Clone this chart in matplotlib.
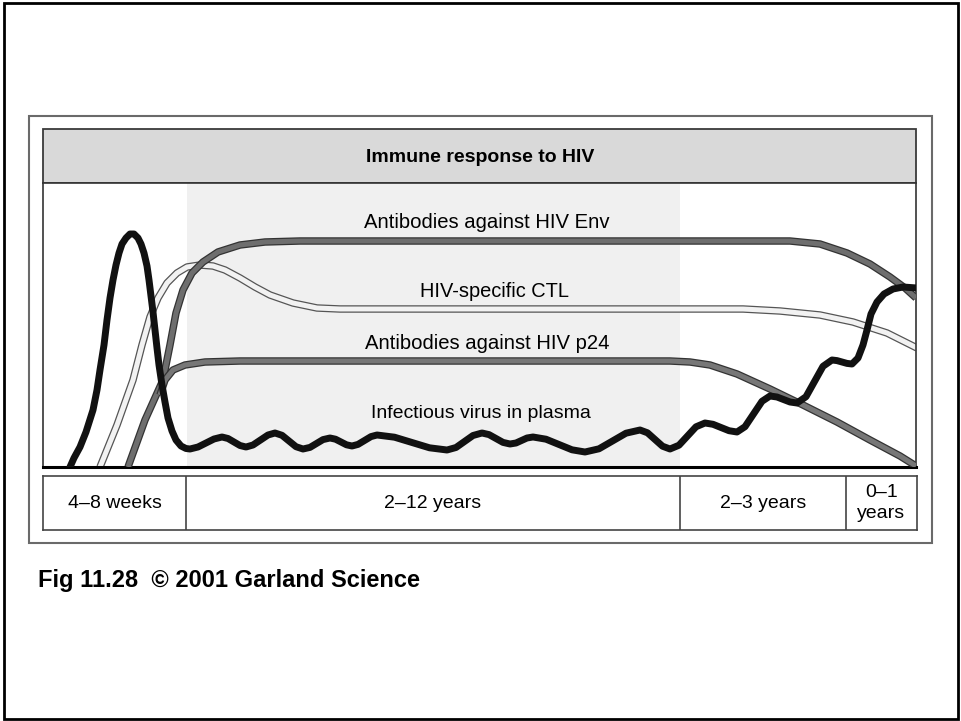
import matplotlib.pyplot as plt
from matplotlib.patches import Rectangle

# schematic time axis (0-873 across the panel) and relative response level (0-284)
env_t = [85, 102, 120, 127, 133, 140, 149, 160, 175, 197, 222, 257, 747, 777, 804, 827, 847, 862, 873]
env_lvl = [0, 47, 87, 122, 154, 177, 194, 205, 215, 222, 225, 226, 226, 223, 214, 203, 190, 179, 169]

ctl_t = [57, 74, 90, 99, 107, 115, 124, 134, 144, 157, 170, 182, 197, 212, 227, 250, 274, 297,
         700, 737, 777, 810, 844, 874]
ctl_lvl = [0, 42, 87, 122, 150, 169, 184, 194, 200, 202, 201, 197, 189, 180, 172, 164, 159, 158,
           158, 156, 152, 145, 134, 119]

p24_t = [117, 122, 130, 142, 162, 197, 627, 647, 667, 694, 727, 760, 794, 827, 857, 873]
p24_lvl = [72, 87, 97, 102, 105, 106, 106, 105, 102, 93, 78, 62, 45, 27, 11, 1]

virus_t = [27, 31, 37, 43, 50, 54, 57, 61, 64, 67, 70, 73, 76, 79, 83, 87, 91, 95, 98, 101, 104,
           106, 108, 110, 112, 114, 116, 119, 122, 125, 129, 133, 138, 143,
           147, 155, 163, 171, 179, 185, 191, 197, 203, 210, 217.5, 225, 232, 239, 246, 253,
           260, 267, 273.5, 280, 287, 292.5, 298, 303.5, 309, 315, 321.5, 328, 334, 351.5, 369,
           386.5, 404, 413, 421.5, 430, 439, 446, 453, 460, 467, 473, 478.5, 484, 490, 503, 516,
           529, 542, 556, 569.5, 583, 597, 604.5, 612, 619.5, 627, 636, 644.5, 653, 662, 670,
           678, 686, 694, 702, 710.5, 719, 727, 734, 740.5, 747, 754, 763, 771.5, 780, 789, 794,
           799, 804, 809, 815, 820, 824, 828, 834, 841, 850, 860, 874]
virus_lvl = [0, 9, 20, 35, 57, 77, 97, 122, 147, 169, 187, 202, 214, 223, 229, 233, 233, 229, 223,
             214, 201, 187, 171, 155, 137, 119, 102, 82, 65, 49, 36, 27, 21, 18.5,
             18, 20, 24, 28, 30, 28.5, 25, 21.5, 20, 22, 27, 32, 34, 31.7, 26, 20.3,
             18, 19.6, 23.5, 27.4, 29, 27.8, 25, 22.2, 21, 22.6, 26.5, 30.4, 32, 29.8, 24.5,
             19.2, 17, 19.5, 25.5, 31.5, 34, 32.4, 28.5, 24.6, 23, 24, 26.5, 29, 30, 27.8, 22.5,
             17.2, 15, 18.2, 26, 33.8, 37, 34.2, 27.5, 20.8, 18, 21.8, 31, 40.2, 44, 42.7,
             39.5, 36.3, 35, 40.3, 53, 65.7, 71, 70, 67.5, 65, 64, 70.3, 85.5, 100.7, 107, 106.4,
             105, 103.6, 103, 109, 122, 137, 153, 165, 173, 178, 180, 179]

chronic_span = [144, 637]
stage_edges = [0, 143, 637, 803, 874]
stage_labels = ['4–8 weeks', '2–12 years', '2–3 years', '0–1\nyears']

plt.rcParams['font.family'] = ['Liberation Sans', 'DejaVu Sans']

W, H = 961, 721
fig = plt.figure(figsize=(W / 100, H / 100), dpi=100)

# background layer in pixel coordinates for frames and captions
bg = fig.add_axes([0, 0, 1, 1], zorder=0)
bg.set_xlim(0, W)
bg.set_ylim(H, 0)
bg.axis('off')


def box(x0, y0, x1, y1, **kw):
    bg.add_patch(Rectangle((x0, y0), x1 - x0, y1 - y0, **kw))


box(4, 3, 958, 719, fill=False, ec='black', lw=2)
box(29, 116, 932, 543, fill=False, ec='#6a6a6a', lw=1.5)
box(43, 129, 916, 183, fc='#d9d9d9', ec='#3a3a3a', lw=1.3)
bg.text(480, 157, 'Immune response to HIV', ha='center', va='center',
        fontsize=14, fontweight='bold')
bg.text(38, 581, 'Fig 11.28  © 2001 Garland Science', ha='left', va='center',
        fontsize=17, fontweight='bold')

# main plot
ax = fig.add_axes([43 / W, 1 - 467 / H, 873 / W, 284 / H], zorder=1)
ax.set_xlim(0, 873)
ax.set_ylim(0, 284)
ax.set_xticks([])
ax.set_yticks([])
for side in ['left', 'right', 'top']:
    ax.spines[side].set_color('#333333')
    ax.spines[side].set_linewidth(1.2)
ax.spines['bottom'].set_color('black')
ax.spines['bottom'].set_linewidth(2.2)
ax.axvspan(chronic_span[0], chronic_span[1], color='#f0f0f0', lw=0, zorder=0)


def band(t, lvl, fill, edge, z):
    ax.plot(t, lvl, color=edge, lw=5.4, solid_joinstyle='round', solid_capstyle='butt', zorder=z)
    ax.plot(t, lvl, color=fill, lw=3.6, solid_joinstyle='round', solid_capstyle='butt', zorder=z + 0.1)


band(ctl_t, ctl_lvl, '#f2f2f2', '#555555', 2)
band(env_t, env_lvl, '#6e6e6e', '#333333', 3)
band(p24_t, p24_lvl, '#777777', '#333333', 4)
ax.plot(virus_t, virus_lvl, color='#111111', lw=5, solid_joinstyle='round',
        solid_capstyle='round', zorder=6)

ax.text(444, 245, 'Antibodies against HIV Env', ha='center', va='center', fontsize=14.6, zorder=7)
ax.text(452, 176, 'HIV-specific CTL', ha='center', va='center', fontsize=14.4, zorder=7)
ax.text(444, 124, 'Antibodies against HIV p24', ha='center', va='center', fontsize=14.6, zorder=7)
ax.text(438, 54, 'Infectious virus in plasma', ha='center', va='center', fontsize=14, zorder=7)

# stage boxes under the time axis
ax2 = fig.add_axes([43 / W, 1 - 530 / H, 874 / W, 54 / H], zorder=1)
ax2.set_xlim(stage_edges[0], stage_edges[-1])
ax2.set_ylim(0, 1)
ax2.set_xticks([])
ax2.set_yticks([])
for s in ax2.spines.values():
    s.set_color('#444444')
    s.set_linewidth(1.2)
for e in stage_edges[1:-1]:
    ax2.axvline(e, color='#444444', lw=1.2)
for i, lab in enumerate(stage_labels):
    mid = (stage_edges[i] + stage_edges[i + 1]) / 2
    ax2.text(mid, 0.5, lab, ha='center', va='center', fontsize=14, linespacing=1.35)

fig.savefig('out.png', dpi=100)
